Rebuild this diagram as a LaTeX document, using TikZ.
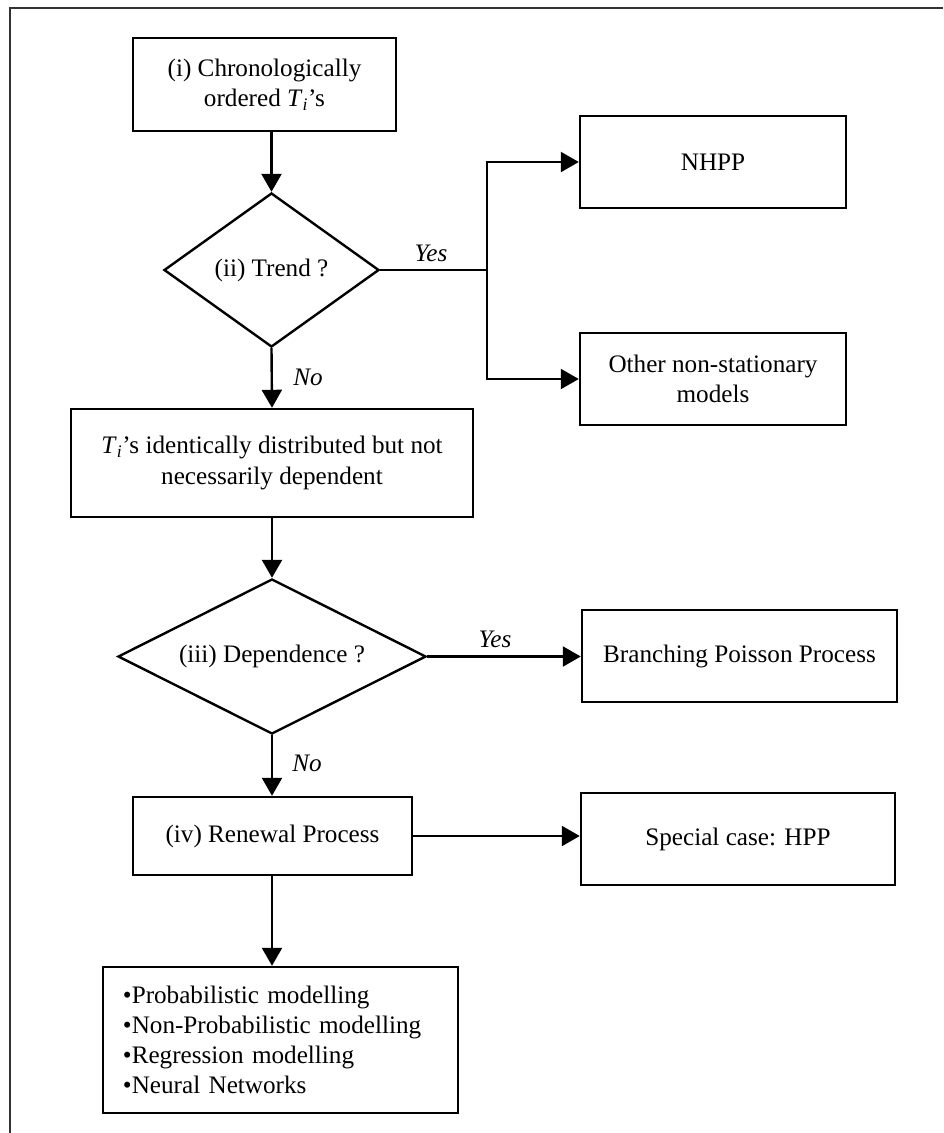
\documentclass[tikz,border=0pt]{standalone}
\usepackage{fontspec}
\setmainfont{Liberation Serif}
\usetikzlibrary{shapes.geometric,arrows.meta}
\newcommand{\flowfont}{\fontsize{17.9pt}{21.5pt}\selectfont}
\newcommand{\Ti}{\textit{T}\textsubscript{\textit{i}}}
\tikzset{
  procbox/.style={draw, line width=0.06cm, rectangle, inner sep=0pt, align=center, font=\flowfont},
  decision/.style={draw, line width=0.06cm, diamond, inner sep=0pt, align=center, font=\flowfont},
  flowline/.style={line width=0.06cm},
  flowarrow/.style={line width=0.06cm, -{Triangle[length=0.45cm,width=0.5cm]}},
  answer/.style={font=\flowfont\itshape, inner sep=0pt}
}
\begin{document}
\begin{tikzpicture}[x=0.025cm, y=-0.025cm]
                            \useasboundingbox (0,0) rectangle (943,1133);
                            
                            % Drawing frame
                            \draw [line width=0.045cm, black!80] (943,8) -- (10,8) -- (10,1133);%
                            
                            % Marking step (i)
                            \node [procbox, minimum width=6.575cm, minimum height=2.325cm] (box1) at (264.5,84.5) {(i) Chronologically\\ordered \Ti’s};%
                            
                            % Marking decision (ii)
                            \node [decision, shape aspect=1.4, minimum width=5.375cm, minimum height=3.85cm] (dia1) at (271.5,270) {(ii) Trend ?};%
                            
                            % Marking outcomes of a trend
                            \node [procbox, minimum width=6.65cm, minimum height=2.3cm] (nhpp) at (713,162) {NHPP};%
                            \node [procbox, minimum width=6.65cm, minimum height=2.3cm] (other) at (713,379) {Other non-stationary\\models};%
                            
                            % Marking identically distributed case
                            \node [procbox, minimum width=10.05cm, minimum height=2.7cm] (box2) at (272,463) {\Ti’s identically distributed but not\\necessarily dependent};%
                            
                            % Marking decision (iii)
                            \node [decision, shape aspect=2, minimum width=7.7cm, minimum height=3.875cm] (dia2) at (272,656.5) {(iii) Dependence ?};%
                            \node [procbox, minimum width=7.875cm, minimum height=2.3cm] (bpp) at (739.5,656) {Branching Poisson Process};%
                            
                            % Marking step (iv)
                            \node [procbox, minimum width=6.975cm, minimum height=1.95cm] (renew) at (272.5,836) {(iv) Renewal Process};%
                            \node [procbox, minimum width=7.85cm, minimum height=2.3cm] (hpp) at (738,839) {Special case: HPP};%
                            
                            % Marking list of methods
                            \node [procbox, align=left, text width=7.875cm, inner xsep=0.5cm, minimum height=3.65cm] (methods) at (280.5,1040) {•Probabilistic modelling\\•Non-Probabilistic modelling\\•Regression modelling\\•Neural Networks};%
                            
                            % Drawing connectors
                            \coordinate (split) at (487,270);%
                            \draw [flowarrow] (box1.south -| dia1.north) -- (dia1.north);%
                            \draw [flowline] (dia1.east) -- (split);%
                            \draw [flowarrow] (split) |- (nhpp.west);%
                            \draw [flowarrow] (split) |- (other.west);%
                            \draw [flowarrow] (dia1.south) -- (box2.north);%
                            \draw [flowarrow] (box2.south) -- (dia2.north);%
                            \draw [flowarrow] (dia2.east) -- (dia2.east -| bpp.west);%
                            \draw [flowarrow] (dia2.south) -- (dia2.south |- renew.north);%
                            \draw [flowarrow] (renew.east) -- (renew.east -| hpp.west);%
                            \draw [flowarrow] (renew.south -| dia2.south) -- (dia2.south |- methods.north);%
                            
                            % Marking answers
                            \node [answer] (yes1) at (431,253) {Yes};%
                            \node [answer] (no1) at (308,377) {No};%
                            \node [answer] (yes2) at (495,639) {Yes};%
                            \node [answer] (no2) at (307,763) {No};%
\end{tikzpicture}
\end{document}
